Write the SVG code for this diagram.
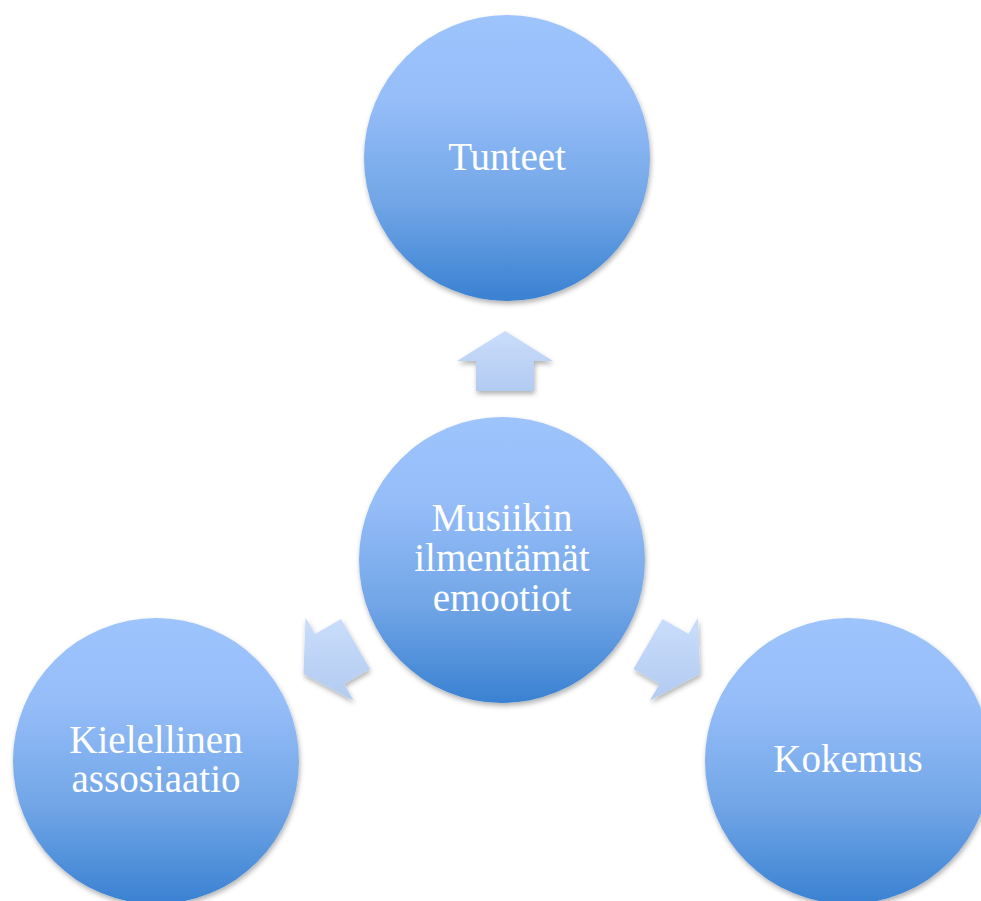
<svg xmlns="http://www.w3.org/2000/svg" width="981" height="901" viewBox="0 0 981 901">
<style>
.node{fill:url(#cg);filter:url(#sh)}
.arr{fill:url(#ag);filter:url(#sh2)}
.lbl{font-family:"Liberation Serif","DejaVu Serif",serif;font-size:39px;fill:#ffffff;text-anchor:middle}
</style>
<defs>
<linearGradient id="cg" x1="0" y1="0" x2="0" y2="1">
<stop offset="0" stop-color="#9EC4FD"/>
<stop offset="0.3" stop-color="#95BDF8"/>
<stop offset="0.65" stop-color="#72A6E7"/>
<stop offset="1" stop-color="#3A81D2"/>
</linearGradient>
<linearGradient id="ag" x1="0" y1="0" x2="0" y2="1">
<stop offset="0" stop-color="#CADDFB"/>
<stop offset="1" stop-color="#B2CBF1"/>
</linearGradient>
<filter id="sh" x="-20%" y="-20%" width="140%" height="140%">
<feDropShadow dx="1" dy="3" stdDeviation="2.5" flood-color="#000" flood-opacity="0.3"/>
</filter>
<filter id="sh2" x="-30%" y="-30%" width="160%" height="160%">
<feDropShadow dx="1" dy="3" stdDeviation="2.5" flood-color="#000" flood-opacity="0.3"/>
</filter>
</defs>
<rect width="981" height="901" fill="#ffffff"/>
<g id="connectors">
<path class="arr" d="M505,331 L553,361 L534,361 L534,391 L476,391 L476,361 L457,361 Z"/>
<path class="arr" d="M303.5,674 L305.5,617.4 L315,633.9 L341,618.9 L370,669.1 L344,684.1 L353.5,700.6 Z"/>
<path class="arr" d="M700,674 L650,700.6 L659.5,684.1 L633.5,669.1 L662.5,618.9 L688.5,633.9 L698,617.4 Z"/>
</g>
<g id="tunteet">
<circle class="node" cx="507" cy="158" r="143"/>
<text class="lbl" x="507" y="170">Tunteet</text>
</g>
<g id="musiikin">
<circle class="node" cx="502" cy="560" r="143"/>
<text class="lbl" x="502" y="531">Musiikin</text>
<text class="lbl" x="502" y="571">ilmentämät</text>
<text class="lbl" x="502" y="611">emootiot</text>
</g>
<g id="kielellinen">
<circle class="node" cx="156" cy="761" r="143"/>
<text class="lbl" x="156" y="753">Kielellinen</text>
<text class="lbl" x="156" y="792">assosiaatio</text>
</g>
<g id="kokemus">
<circle class="node" cx="848" cy="761" r="143"/>
<text class="lbl" x="848" y="772">Kokemus</text>
</g>
</svg>
